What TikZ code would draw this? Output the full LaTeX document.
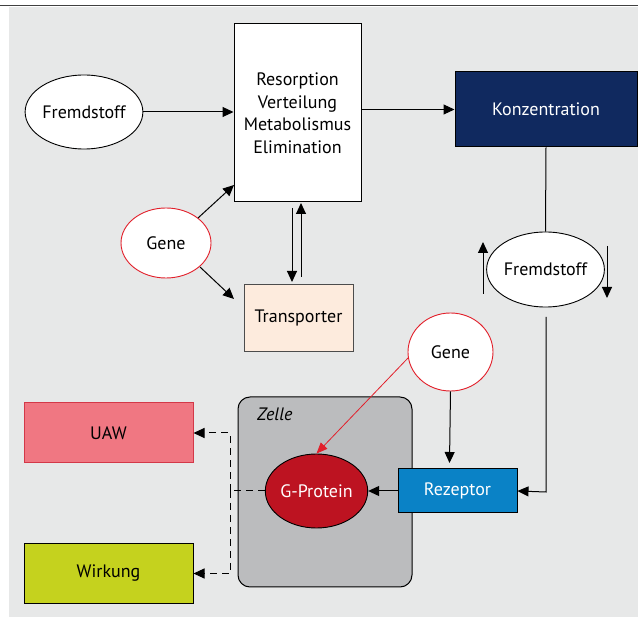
\documentclass[tikz,border=0pt]{standalone}
\usepackage{fontspec}
\setmainfont{PT Sans}
\usetikzlibrary{arrows.meta,shapes.geometric}
\definecolor{bgc}{HTML}{E7E8E8}
\definecolor{navy}{HTML}{10295F}
\definecolor{rezc}{HTML}{0A82C6}
\definecolor{gpc}{HTML}{BD1321}
\definecolor{uawc}{HTML}{F07782}
\definecolor{uawb}{HTML}{D33848}
\definecolor{wirc}{HTML}{C5D21E}
\definecolor{trc}{HTML}{FDEBDD}
\definecolor{zellc}{HTML}{BBBCBE}
\definecolor{genec}{HTML}{E2202B}
\tikzset{
  lbl/.style={font=\fontsize{18}{22.5}\selectfont, align=center, inner sep=0pt},
  boxn/.style={lbl, rectangle, draw=black, line width=1pt},
  ell/.style={lbl, ellipse, draw=black, line width=0.9pt, fill=white},
  genen/.style={ell, draw=genec},
  arr/.style={line width=1pt, -{Triangle[length=11pt,width=10pt]}},
  darr/.style={arr, dash pattern=on 7pt off 5pt},
  conn/.style={line width=1pt},
}
\begin{document}
\begin{tikzpicture}[x=1pt,y=-1pt]
\useasboundingbox (0,0) rectangle (638,617);
\fill[bgc] (9,7.5) rectangle (638,617);
\draw[line width=1.8pt, black!75] (0,5.5) -- (638,5.5);

% top left part
\node[boxn, fill=white, minimum width=127pt, minimum height=178pt] (abs) at (297.5,113) {Resorption\\Verteilung\\Metabolismus\\Elimination};
\node[ell, minimum width=112pt, minimum height=74pt] (fs1) at (84,112) {Fremdstoff};
\node[genen, minimum width=90pt, minimum height=70pt] (gene1) at (166,243) {Gene};
\node[boxn, fill=trc, draw=black!70, minimum width=109pt, minimum height=67pt] (trans) at (298.5,318.5) {Transporter};
\node[boxn, fill=navy, text=white, minimum width=182pt, minimum height=75pt] (konz) at (546,109.5) {Konzentration};
\node[ell, minimum width=111pt, minimum height=75pt] (fs2) at (545.5,269.5) {Fremdstoff};
\node[genen, minimum width=85pt, minimum height=78pt] (gene2) at (450.5,352) {Gene};

% cell
\node[draw=black, line width=1pt, fill=zellc, rounded corners=12pt, minimum width=174pt, minimum height=190pt, inner sep=0pt] (zelle) at (325,492) {};
\node[lbl, font=\fontsize{18}{20}\selectfont\itshape, anchor=west] (zlab) at (257,414) {Zelle};
\node[boxn, fill=rezc, text=white, minimum width=119pt, minimum height=44pt] (rez) at (457.5,491) {Rezeptor};
\node[ell, fill=gpc, text=white, minimum width=99pt, minimum height=74pt] (gp) at (316.5,491) {G-Protein};
\node[boxn, fill=uawc, draw=uawb, minimum width=169pt, minimum height=60pt] (uaw) at (108.5,433) {UAW};
\node[boxn, fill=wirc, minimum width=169pt, minimum height=60pt] (wir) at (108.5,573.5) {Wirkung};

% connectors
\draw[arr] (fs1.east) -- (abs.west |- fs1.east);
\draw[arr] (abs.east |- konz.west) -- (konz.west);
\coordinate (g1a) at (198,218);
\coordinate (g1b) at (234,185);
\draw[arr] (g1a) -- (g1b);
\coordinate (g1c) at (200,267);
\coordinate (g1d) at (234,299);
\draw[arr] (g1c) -- (g1d);
\coordinate (d1s) at (292,208);
\coordinate (d1e) at (292,282);
\draw[arr] (d1s) -- (d1e);
\coordinate (u1s) at (301,277);
\coordinate (u1e) at (301,203);
\draw[arr] (u1s) -- (u1e);

\draw[conn] (konz.south) -- (fs2.north);
\coordinate (uls) at (483,294);
\coordinate (ule) at (483,242);
\draw[arr] (uls) -- (ule);
\coordinate (drs) at (607,246);
\coordinate (dre) at (607,298);
\draw[arr] (drs) -- (dre);
\coordinate (fsb) at (546,317);
\draw[arr] (fsb) -- (546,492) -- (rez.east);

\coordinate (g2e) at (449.5,463);
\draw[arr] (gene2.south) -- (g2e);
\draw[line width=0.8pt, draw=genec, -{Triangle[length=11pt,width=9pt]}] (gene2.188) -- (gp.north);
\draw[arr] (rez.west) -- (gp.east);

\coordinate (dj) at (230,491);
\coordinate (dt) at (230,433);
\coordinate (db) at (230,573.5);
\draw[conn, dash pattern=on 7pt off 5pt] (gp.west) -- (dj);
\draw[darr] (dj) -- (dt) -- (uaw.east);
\draw[darr] (dj) -- (db) -- (wir.east);
\end{tikzpicture}
\end{document}
